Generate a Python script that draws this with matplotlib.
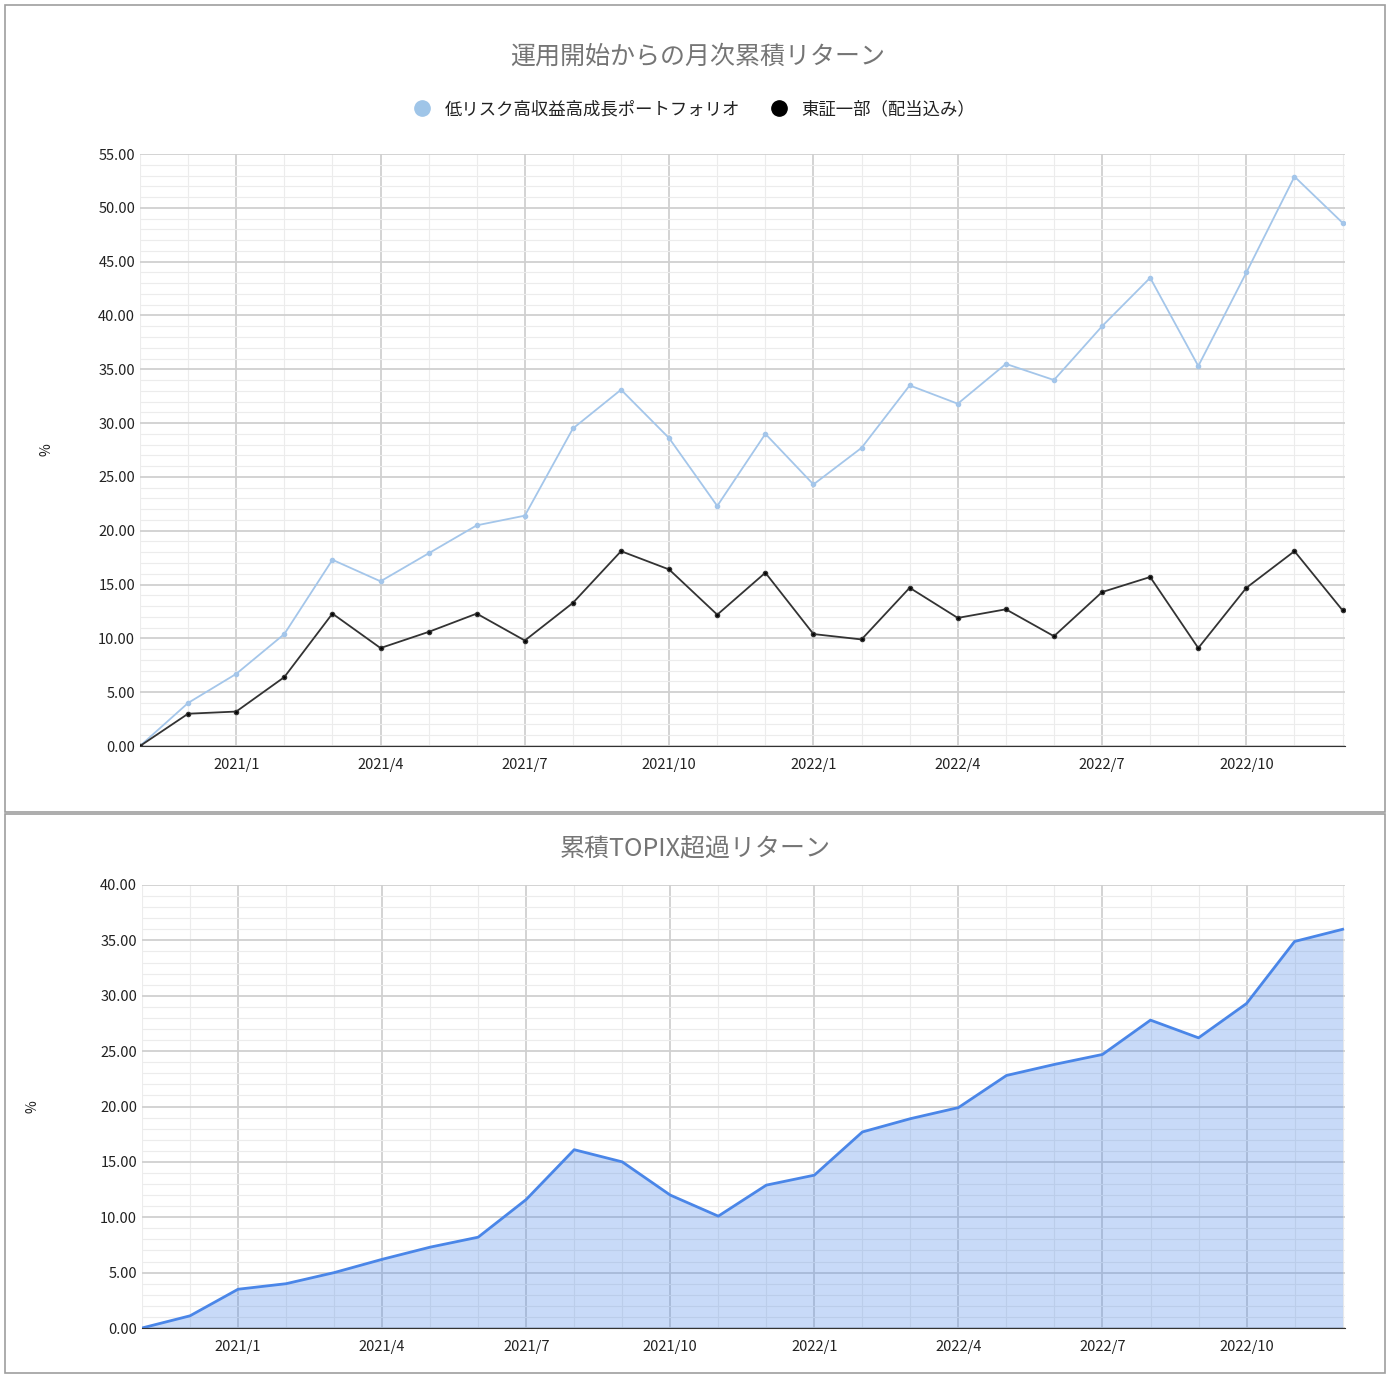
import matplotlib
matplotlib.use("Agg")
import matplotlib.pyplot as plt
from matplotlib.patches import Rectangle
from matplotlib.lines import Line2D
from matplotlib.ticker import MultipleLocator, FixedLocator

plt.rcParams['font.family'] = ['Noto Sans CJK JP', 'DejaVu Sans']

months = ["2020/11","2020/12","2021/1","2021/2","2021/3","2021/4","2021/5","2021/6","2021/7","2021/8","2021/9","2021/10","2021/11","2021/12",
          "2022/1","2022/2","2022/3","2022/4","2022/5","2022/6","2022/7","2022/8","2022/9","2022/10","2022/11","2022/12"]
portfolio = [0, 4.0, 6.7, 10.4, 17.3, 15.3, 17.9, 20.5, 21.4, 29.5, 33.1, 28.6, 22.3, 29.0, 24.3, 27.7, 33.5, 31.8, 35.5, 34.0, 39.0, 43.5, 35.3, 44.0, 52.9, 48.6]
topix = [0, 3.0, 3.2, 6.4, 12.3, 9.1, 10.6, 12.3, 9.8, 13.3, 18.1, 16.4, 12.2, 16.1, 10.4, 9.9, 14.7, 11.9, 12.7, 10.2, 14.3, 15.7, 9.1, 14.7, 18.1, 12.6]
excess = [0, 1.1, 3.5, 4.0, 5.0, 6.2, 7.3, 8.2, 11.6, 16.1, 15.0, 12.0, 10.1, 12.9, 13.8, 17.7, 18.9, 19.9, 22.8, 23.8, 24.7, 27.8, 26.2, 29.3, 34.9, 36.0]
tick_labels = ["2021/1","2021/4","2021/7","2021/10","2022/1","2022/4","2022/7","2022/10"]

W, H = 1392, 1379
fig = plt.figure(figsize=(W/100, H/100), dpi=100)
for (y0, y1) in [(5, 812), (814, 1373)]:
    fig.patches.append(Rectangle((5/W, 1-y1/H), (1385-5)/W, (y1-y0)/H, transform=fig.transFigure,
                                 fill=False, edgecolor='#9e9e9e', lw=1.2))

x = list(range(len(months)))
tick_pos = [months.index(t) for t in tick_labels]

def style(ax, ymax, step, lp):
    ax.set_xlim(0, 25.05)
    ax.set_ylim(0, ymax)
    ax.xaxis.set_major_locator(FixedLocator(tick_pos))
    ax.set_xticklabels(tick_labels)
    ax.xaxis.set_minor_locator(MultipleLocator(1))
    ax.yaxis.set_major_locator(MultipleLocator(step))
    ax.yaxis.set_minor_locator(MultipleLocator(1))
    ax.yaxis.set_major_formatter(matplotlib.ticker.FormatStrFormatter('%.2f'))
    ax.grid(which='major', color='#d0d0d0', lw=1.3)
    ax.grid(which='minor', color='#ececec', lw=0.8)
    ax.set_axisbelow(True)
    for s in ['top', 'right', 'left']:
        ax.spines[s].set_visible(False)
    ax.spines['bottom'].set_color('#333333')
    ax.tick_params(which='both', length=0, labelsize=10.5, colors='#222222')
    ax.tick_params(axis='x', pad=9)
    ax.set_ylabel('%', fontsize=10, color='#222222', rotation=90, labelpad=lp)

ax1 = fig.add_axes([140/W, 1-746/H, 1205/W, 592/H])
style(ax1, 55, 5, 32)
ax1.plot(x, portfolio, color='#a4c6ea', lw=1.3, marker='o', ms=3)
ax1.plot(x, topix, color='#333333', lw=1.3, marker='o', ms=3, markerfacecolor='black')
fig.text(698/W, 1-57/H, '運用開始からの月次累積リターン', ha='center', va='center', fontsize=18, color='#757575')
handles = [Line2D([], [], ls='none', marker='o', ms=11, color='#9fc5e8'),
           Line2D([], [], ls='none', marker='o', ms=11, color='black')]
fig.legend(handles, ['低リスク高収益高成長ポートフォリオ', '東証一部（配当込み）'], loc='center',
           bbox_to_anchor=(690/W, 1-109/H), ncol=2, frameon=False, fontsize=12.5,
           handletextpad=0.3, columnspacing=1.2, labelcolor='#222222')

ax2 = fig.add_axes([142/W, 1-1328/H, 1203/W, 443/H])
style(ax2, 40, 5, 44)
ax2.fill_between(x, excess, color='#4a86e8', alpha=0.3, lw=0)
ax2.plot(x, excess, color='#4a86e8', lw=2)
fig.text(695/W, 1-849/H, '累積TOPIX超過リターン', ha='center', va='center', fontsize=18, color='#757575')

fig.savefig('out.png', dpi=100, facecolor='white')
